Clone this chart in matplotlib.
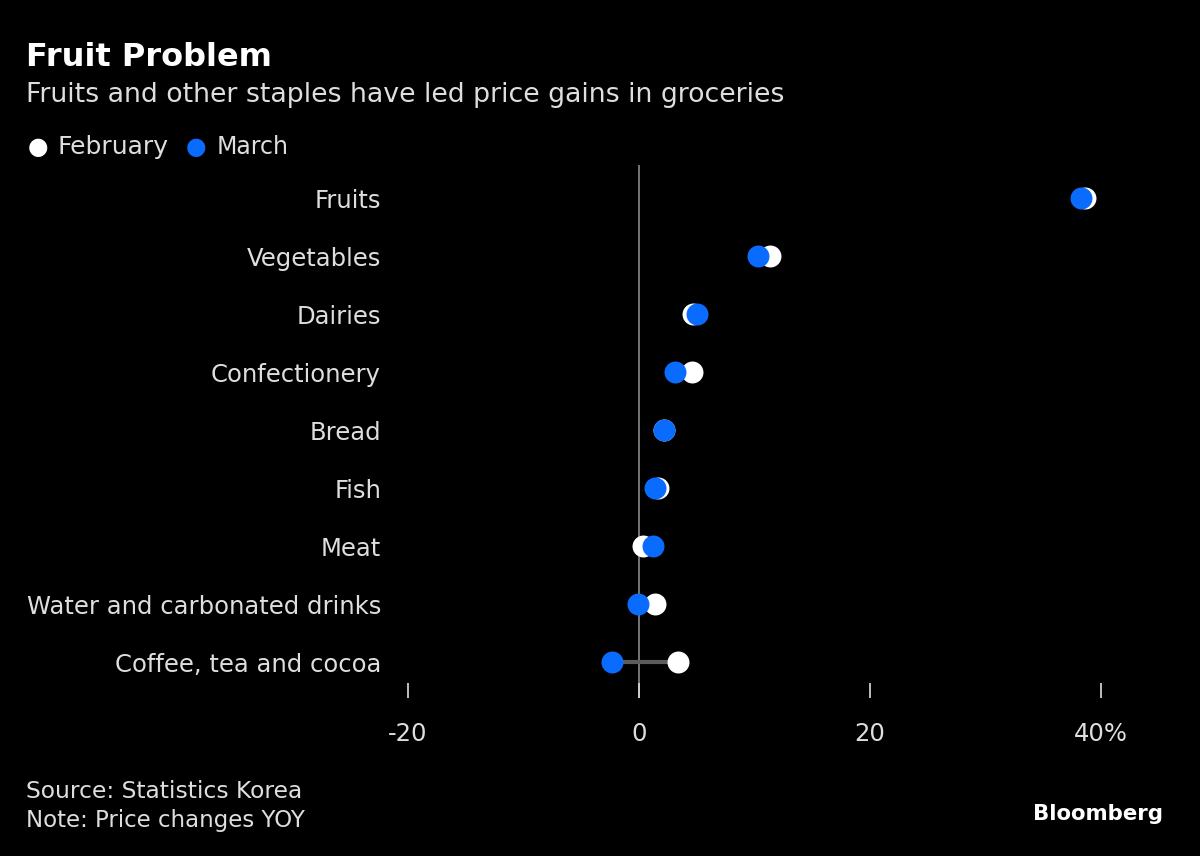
import matplotlib
matplotlib.use("Agg")
import matplotlib.pyplot as plt

# YoY price change (%) by grocery category
categories = ["Fruits", "Vegetables", "Dairies", "Confectionery", "Bread",
              "Fish", "Meat", "Water and carbonated drinks", "Coffee, tea and cocoa"]
february = [38.6, 11.3, 4.7, 4.6, 2.2, 1.6, 0.3, 1.4, 3.4]
march = [38.3, 10.3, 5.0, 3.1, 2.2, 1.4, 1.2, -0.1, -2.3]
xticks = [-20, 0, 20, 40]
xticklabels = ["-20", "0", "20", "40%"]

bg = "black"
txt = "#dedede"
blue = "#0a6cff"

plt.rcParams["font.family"] = ["DejaVu Sans"]

fig = plt.figure(figsize=(12, 8.56), dpi=100, facecolor=bg)
W, H = 1200, 856
# axes box in pixels: left 395, right 1150, top 165, bottom 698
ax = fig.add_axes([395 / W, 1 - 698 / H, (1150 - 395) / W, (698 - 165) / H])
ax.set_facecolor(bg)

ypos = list(range(len(categories)))

# connecting lines between months
for y, f, m in zip(ypos, february, march):
    ax.plot([f, m], [y, y], color="#5c5c5c", lw=3, zorder=1, solid_capstyle="butt")

ax.axvline(0, color="#8a8a8a", lw=1.2, zorder=0)

ax.scatter(february, ypos, s=250, color="white", zorder=2, linewidths=0)
ax.scatter(march, ypos, s=250, color=blue, zorder=3, linewidths=0)

ax.set_xlim(-21.13, 44.24)
ax.set_ylim(8.62, -0.57)

ax.set_yticks(ypos)
ax.set_yticklabels(categories)
ax.set_xticks(xticks)
ax.set_xticklabels(xticklabels)
ax.tick_params(axis="y", length=0, pad=10, labelsize=17.5, labelcolor=txt)
ax.tick_params(axis="x", direction="in", length=11, width=1.2, color=txt,
               pad=17, labelsize=17.5, labelcolor=txt)
for s in ax.spines.values():
    s.set_visible(False)

# titles
fig.text(26 / W, 1 - 57 / H, "Fruit Problem", color="white", fontsize=23,
         fontweight="bold", va="center", ha="left")
fig.text(26 / W, 1 - 95 / H, "Fruits and other staples have led price gains in groceries",
         color=txt, fontsize=19.3, va="center", ha="left")

# legend
fig.text(28 / W, 1 - 147 / H, "\u25CF", color="white", fontsize=17, va="center", ha="left")
fig.text(57 / W, 1 - 147 / H, "February", color=txt, fontsize=18, va="center", ha="left")
fig.text(186 / W, 1 - 147 / H, "\u25CF", color=blue, fontsize=17, va="center", ha="left")
fig.text(217 / W, 1 - 147 / H, "March", color=txt, fontsize=17, va="center", ha="left")

# footer
fig.text(26 / W, 1 - 792 / H, "Source: Statistics Korea", color=txt, fontsize=16.8,
         va="center", ha="left")
fig.text(26 / W, 1 - 820 / H, "Note: Price changes YOY", color=txt, fontsize=16.5,
         va="center", ha="left")
fig.text(1163 / W, 1 - 814 / H, "Bloomberg", color="white", fontsize=15.3,
         fontweight="bold", va="center", ha="right")

fig.savefig("out.png", dpi=100, facecolor=bg)
